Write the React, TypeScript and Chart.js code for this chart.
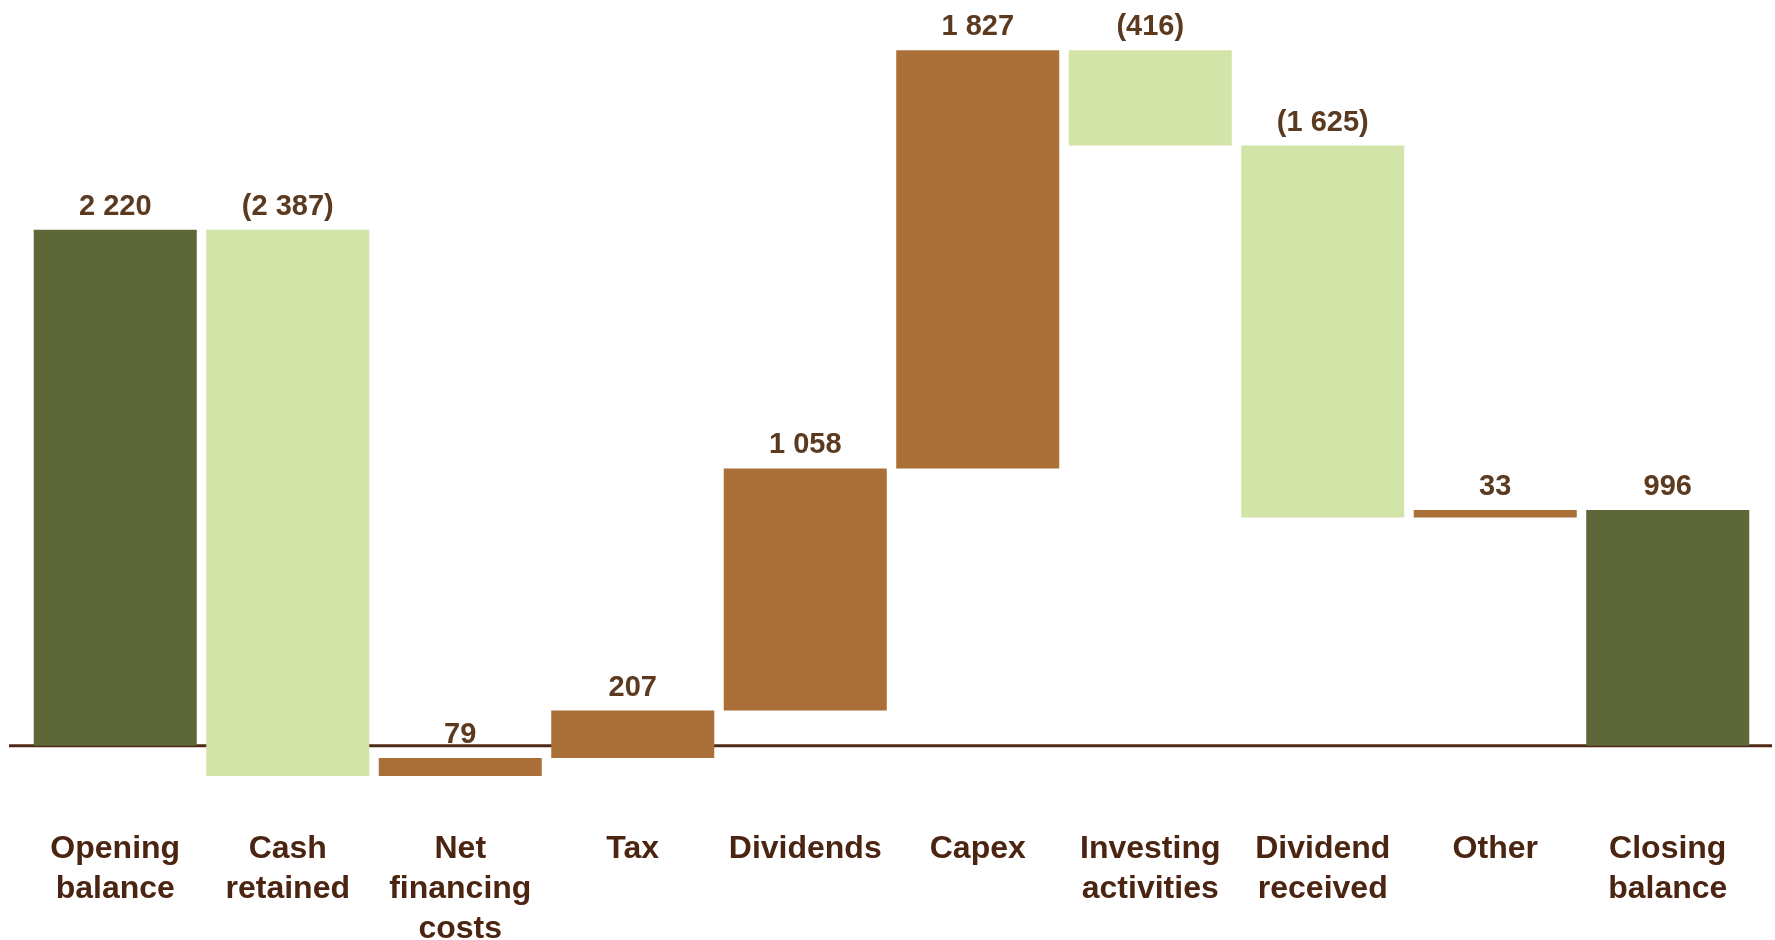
import React, { useEffect, useRef } from "react";
import { Chart, registerables } from "chart.js";

Chart.register(...registerables);

const categories: (string | string[])[] = [
  ["Opening", "balance"],
  ["Cash", "retained"],
  ["Net", "financing", "costs"],
  "Tax",
  "Dividends",
  "Capex",
  ["Investing", "activities"],
  ["Dividend", "received"],
  "Other",
  ["Closing", "balance"],
];
const changes = [2220, -2387, 79, 207, 1058, 1827, -416, -1625, 33, 996];
const kinds = ["total", "step", "step", "step", "step", "step", "step", "step", "step", "total"];
// value at which the drawn axis line sits (totals rise from it, as in the source)
const axisBase = -35;

const COLOR_TOTAL = "#5E6738";
const COLOR_UP = "#AA7038";
const COLOR_DOWN = "#D2E4A7";
const COLOR_AXIS = "#4E2A14";
const COLOR_CAT = "#4B2511";
const COLOR_VAL = "#5B3A1F";
const FONT = "'Liberation Sans', Arial, sans-serif";

function fmt(v: number): string {
  const s = Math.abs(v).toString().replace(/\B(?=(\d{3})+(?!\d))/g, " ");
  return v < 0 ? `(${s})` : s;
}

export default function App() {
  const ref = useRef<HTMLCanvasElement | null>(null);
  useEffect(() => {
    document.body.style.margin = "0";
    if (!ref.current) return;
    let run = 0;
    const ranges: [number, number][] = [];
    const colors: string[] = [];
    changes.forEach((c, i) => {
      if (kinds[i] === "total") {
        ranges.push([axisBase, c]);
        run = c;
        colors.push(COLOR_TOTAL);
      } else {
        ranges.push([run, run + c]);
        run += c;
        colors.push(c >= 0 ? COLOR_UP : COLOR_DOWN);
      }
    });

    const zeroLine = {
      id: "zeroLine",
      beforeDatasetsDraw(chart: any) {
        const ctx = chart.ctx;
        const y = chart.scales.y.getPixelForValue(axisBase);
        ctx.save();
        ctx.strokeStyle = COLOR_AXIS;
        ctx.lineWidth = 3;
        ctx.beginPath();
        ctx.moveTo(9, y);
        ctx.lineTo(1772, y);
        ctx.stroke();
        ctx.restore();
      },
    };
    const valueLabels = {
      id: "valueLabels",
      afterDatasetsDraw(chart: any) {
        const ctx = chart.ctx;
        const meta = chart.getDatasetMeta(0);
        ctx.save();
        ctx.font = `bold 29px ${FONT}`;
        ctx.fillStyle = COLOR_VAL;
        ctx.textAlign = "center";
        ctx.textBaseline = "alphabetic";
        meta.data.forEach((el: any, i: number) => {
          const top = Math.min(el.y, el.base);
          ctx.fillText(fmt(changes[i]), el.x, top - 15);
        });
        ctx.restore();
      },
    };

    const chart = new Chart(ref.current, {
      type: "bar",
      data: {
        labels: categories,
        datasets: [
          {
            data: ranges as any,
            backgroundColor: colors,
            borderWidth: 0,
            barPercentage: 0.945,
            categoryPercentage: 1,
          },
        ],
      },
      options: {
        animation: false,
        responsive: false,
        layout: { padding: { left: 29, right: 21, top: 0, bottom: -45 } },
        plugins: { legend: { display: false }, tooltip: { enabled: false } },
        scales: {
          y: { display: false, min: -241, max: 3224 },
          x: {
            grid: { display: false, drawTicks: false },
            border: { display: false },
            ticks: {
              padding: 36,
              color: COLOR_CAT,
              font: { family: FONT, size: 32, weight: "bold", lineHeight: 1.25 },
              maxRotation: 0,
              autoSkip: false,
            },
          },
        },
      },
      plugins: [zeroLine, valueLabels],
    });
    return () => chart.destroy();
  }, []);
  return (
    <div style={{ width: 1775, height: 940 }}>
      <canvas ref={ref} width={1775} height={940} />
    </div>
  );
}
